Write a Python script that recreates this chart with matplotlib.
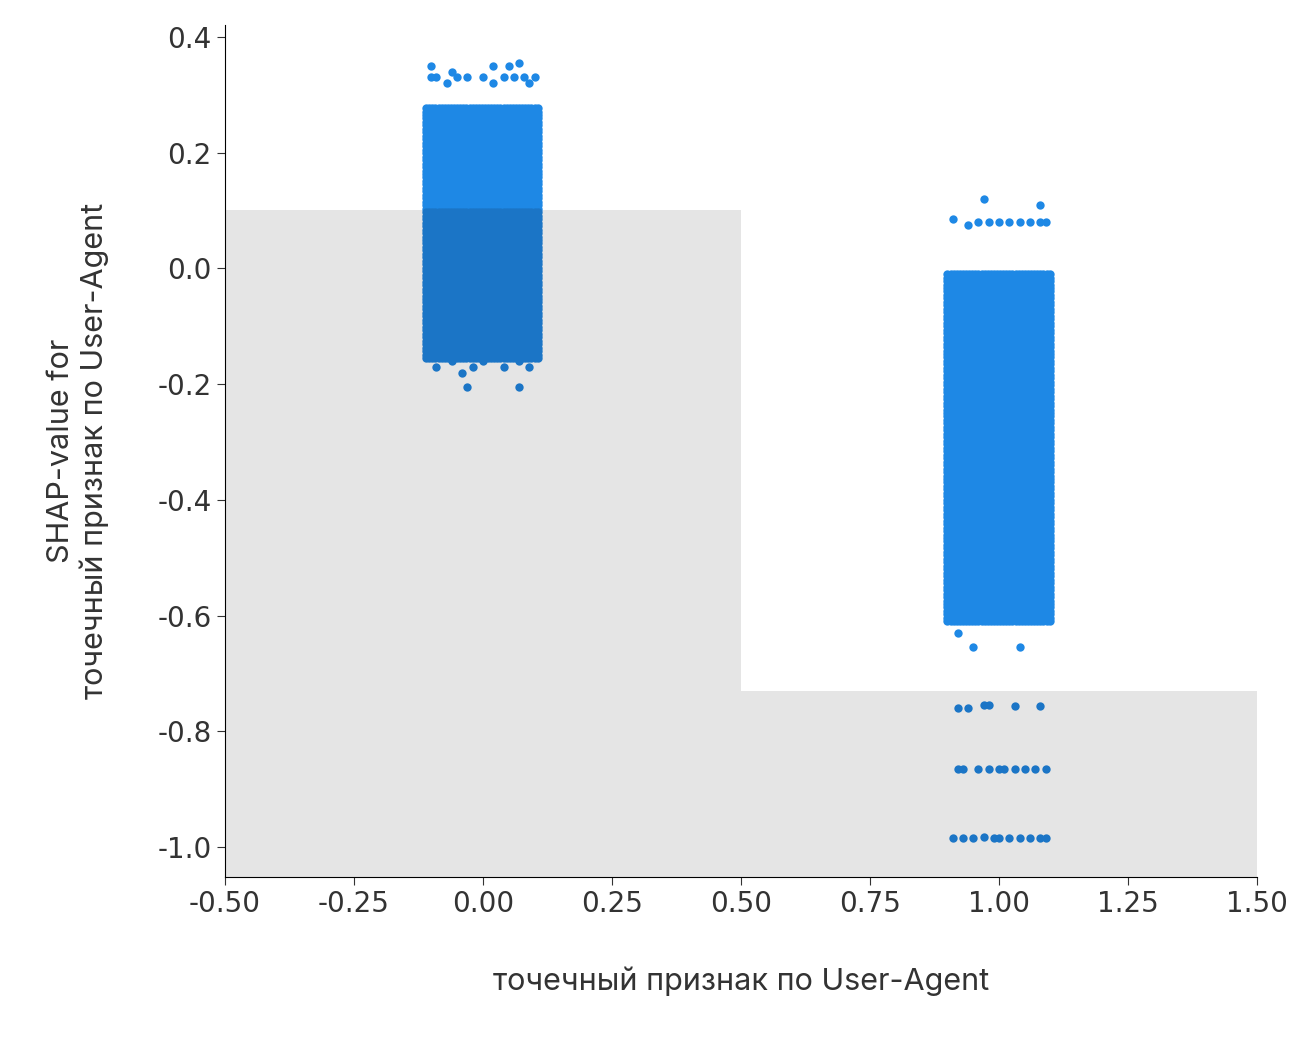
import numpy as np
import matplotlib
matplotlib.use("Agg")
import matplotlib.pyplot as plt

# histogram background (bin edges, heights)
hist_edges = [-0.5, 0.5, 1.5]
hist_tops = [0.10, -0.73]
hist_bottom = -1.06

# dense clouds: (x_min, x_max, y_min, y_max) for feature value 0 and 1
dense_blocks = [(-0.11, 0.11, -0.155, 0.28), (0.9, 1.1, -0.61, -0.005)]

# sparse points
out_x = [-0.1, -0.09, -0.07, -0.05, -0.03, 0.0, 0.02, 0.04, 0.06, 0.08, 0.09, 0.1,
         -0.1, -0.06, 0.02, 0.05, 0.07,
         -0.09, -0.06, -0.04, -0.02, 0.0, 0.04, 0.07, 0.09, -0.03, 0.07,
         0.91, 0.94, 0.96, 0.98, 1.0, 1.02, 1.04, 1.06, 1.08, 1.09, 0.97, 1.08,
         0.92, 0.95, 1.04,
         0.92, 0.94, 0.97, 0.98, 1.03, 1.08,
         0.92, 0.93, 0.96, 0.98, 1.0, 1.01, 1.03, 1.05, 1.07, 1.09,
         0.91, 0.93, 0.95, 0.97, 0.99, 1.0, 1.02, 1.04, 1.06, 1.08, 1.09]
out_y = [0.33, 0.33, 0.32, 0.33, 0.33, 0.33, 0.32, 0.33, 0.33, 0.33, 0.32, 0.33,
         0.35, 0.34, 0.35, 0.35, 0.355,
         -0.17, -0.16, -0.18, -0.17, -0.16, -0.17, -0.16, -0.17, -0.205, -0.205,
         0.085, 0.075, 0.08, 0.08, 0.08, 0.08, 0.08, 0.08, 0.08, 0.08, 0.12, 0.11,
         -0.63, -0.655, -0.655,
         -0.76, -0.76, -0.755, -0.755, -0.757, -0.757,
         -0.865, -0.865, -0.865, -0.865, -0.865, -0.865, -0.865, -0.865, -0.865, -0.865,
         -0.985, -0.985, -0.985, -0.983, -0.985, -0.985, -0.985, -0.985, -0.985, -0.985, -0.985]

blue = "#1E88E5"
dark_blue = "#1B75C6"
fig = plt.figure(figsize=(13.15, 10.53), dpi=100)
ax = fig.add_axes([0.171, 0.167, 0.785, 0.809])

for i, top in enumerate(hist_tops):
    ax.fill_between([hist_edges[i], hist_edges[i + 1]], hist_bottom, top,
                    color="#e5e5e5", linewidth=0, zorder=1)

xs, ys = [], []
for (x0, x1, y0, y1) in dense_blocks:
    gx, gy = np.meshgrid(np.arange(x0, x1 + 1e-9, 0.006), np.arange(y0, y1 + 1e-9, 0.006))
    xs.append(gx.ravel()); ys.append(gy.ravel())
xs.append(np.array(out_x)); ys.append(np.array(out_y))
X = np.concatenate(xs); Y = np.concatenate(ys)
tops = np.where(X < hist_edges[1], hist_tops[0], hist_tops[1])
inside = Y <= tops
ax.scatter(X[~inside], Y[~inside], s=36, color=blue, linewidths=0, zorder=2)
ax.scatter(X[inside], Y[inside], s=36, color=dark_blue, linewidths=0, zorder=2)

ax.set_xlim(-0.5, 1.5)
ax.set_ylim(-1.052, 0.42)
ax.set_xticks([-0.5, -0.25, 0, 0.25, 0.5, 0.75, 1.0, 1.25, 1.5])
ax.set_yticks([0.4, 0.2, 0.0, -0.2, -0.4, -0.6, -0.8, -1.0])
ax.xaxis.set_major_formatter(matplotlib.ticker.FormatStrFormatter('%.2f'))
ax.yaxis.set_major_formatter(matplotlib.ticker.FormatStrFormatter('%.1f'))
ax.tick_params(labelsize=20, length=6, colors="#333333")
for lab in ax.get_xticklabels() + ax.get_yticklabels():
    lab.set_family("DejaVu Sans")
for s in ["top", "right"]:
    ax.spines[s].set_visible(False)
ax.set_xlabel("точечный признак по User-Agent", fontsize=22, family="Inter",
              color="#333333", labelpad=35)
ax.set_ylabel("SHAP-value for\nточечный признак по User-Agent", fontsize=22,
              family="Inter", color="#333333", labelpad=35)
fig.savefig("out.png", dpi=100)
